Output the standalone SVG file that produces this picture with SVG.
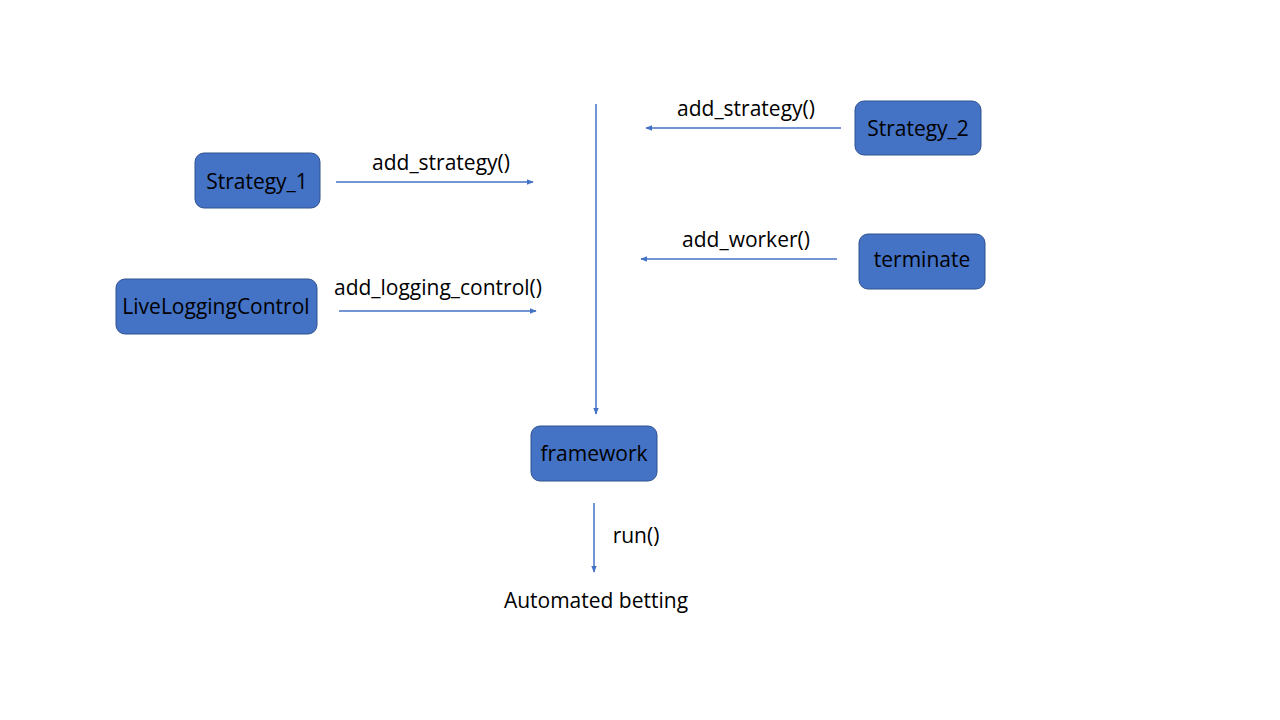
<svg xmlns="http://www.w3.org/2000/svg" width="1280" height="720" viewBox="0 0 1280 720">
<style>
.box{fill:#4472C4;stroke:#2F528F;stroke-width:1}
.t{font-family:"Open Sans","Liberation Sans",Arial,sans-serif;font-size:21px;fill:#000;text-anchor:middle}
.c{stroke:#4472C4;stroke-width:1.5;fill:none;marker-end:url(#ah)}
</style>
<defs>
<marker id="ah" viewBox="0 0 10 10" refX="9" refY="5" markerWidth="7" markerHeight="7" orient="auto" markerUnits="userSpaceOnUse">
<path d="M0,1 L10,5 L0,9 Z" fill="#4472C4"/>
</marker>
</defs>
<rect width="1280" height="720" fill="#fff"/>
<g id="connectors">
<line class="c" x1="596" y1="104" x2="596" y2="414"/>
<line class="c" x1="336" y1="182" x2="533" y2="182"/>
<line class="c" x1="339" y1="311" x2="536" y2="311"/>
<line class="c" x1="841" y1="128" x2="646" y2="128"/>
<line class="c" x1="837" y1="259" x2="641" y2="259"/>
<line class="c" x1="594" y1="503" x2="594" y2="572"/>
<text class="t" x="441" y="170">add_strategy()</text>
<text class="t" x="438" y="295">add_logging_control()</text>
<text class="t" x="746" y="116">add_strategy()</text>
<text class="t" x="746" y="247">add_worker()</text>
<text class="t" x="636" y="543">run()</text>
</g>
<g id="strategy1"><rect class="box" x="195" y="153" width="125" height="55" rx="9"/><text class="t" x="257" y="189">Strategy_1</text></g>
<g id="livelogging"><rect class="box" x="116" y="279" width="201" height="55" rx="9"/><text class="t" x="216" y="314">LiveLoggingControl</text></g>
<g id="strategy2"><rect class="box" x="855" y="101" width="126" height="54" rx="9"/><text class="t" x="918" y="136">Strategy_2</text></g>
<g id="terminate"><rect class="box" x="859" y="234" width="126" height="55" rx="9"/><text class="t" x="922" y="267">terminate</text></g>
<g id="framework"><rect class="box" x="531" y="426" width="126" height="55" rx="9"/><text class="t" x="594" y="461">framework</text></g>
<g id="automated"><text class="t" x="596" y="608">Automated betting</text></g>
</svg>
